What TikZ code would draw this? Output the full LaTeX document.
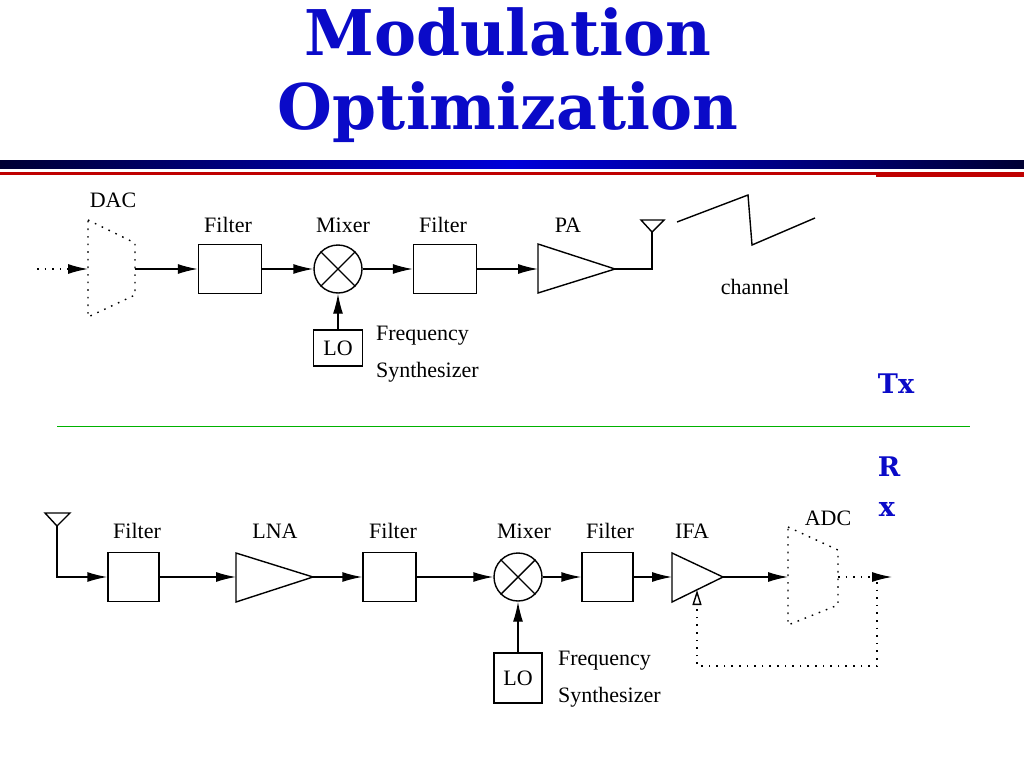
\documentclass[tikz,border=0pt]{standalone}
\usepackage{fontspec}
\setmainfont{Liberation Serif}
\newfontfamily\titlefont{DejaVu Serif}
\usetikzlibrary{arrows.meta}
\definecolor{tblue}{RGB}{10,10,200}
\begin{document}
\begin{tikzpicture}[x=1pt,y=-1pt,line width=1.4pt,
  box/.style={draw,minimum width=63pt,minimum height=49pt,inner sep=0},
  lbl/.style={font=\fontsize{22}{24}\selectfont},
  arr/.style={-{Latex[length=20pt,width=10pt]}},
  dots/.style={dash pattern=on 1.6pt off 6pt},
  bl/.style={text=tblue,font=\titlefont\bfseries\fontsize{27}{29}\selectfont}]
\useasboundingbox (0,0) rectangle (1024,768);
% title
\node[text=tblue,font=\titlefont\bfseries\fontsize{63}{66}\selectfont] (t1) at (508,32) {Modulation};
\node[text=tblue,font=\titlefont\bfseries\fontsize{63}{66}\selectfont] (t2) at (508,112) {Optimization};
\shade[left color=black!80!blue,right color=black!80!blue,middle color=blue!85!black] (0,160) rectangle (1024,168);
\fill[red!75!black] (0,172) rectangle (1024,175);
\fill[red!75!black] (876,172) rectangle (1024,177);
% ---------- Tx ----------
\coordinate (in) at (37,269);
\coordinate (dacL) at (88,269);
\coordinate (dacR) at (135,269);
\draw[dots] (88,220) -- (135,243) -- (135,295) -- (88,317) -- cycle;
\node[lbl] (dacl) at (113,200) {DAC};
\draw[dots,-{Latex[length=20pt,width=10pt]}] (in) -- (dacL);
\node[box] (f1) at (230,269) {};
\node[lbl] (f1l) at (228,225) {Filter};
\node[draw,circle,minimum size=48pt,inner sep=0] (m1) at (338,269) {};
\draw (m1.north west) -- (m1.south east) (m1.north east) -- (m1.south west);
\node[lbl] (m1l) at (343,225) {Mixer};
\node[box] (f2) at (445,269) {};
\node[lbl] (f2l) at (443,225) {Filter};
\coordinate (paL) at (538,269);
\coordinate (paT) at (615,269);
\draw (538,244) -- (615,269) -- (538,293) -- cycle;
\node[lbl] (pal) at (568,225) {PA};
\draw[arr] (dacR) -- (f1);
\draw[arr] (f1) -- (m1);
\draw[arr] (m1) -- (f2);
\draw[arr] (f2) -- (paL);
\coordinate (ant1) at (652,232);
\draw (paT) -- (652,269) -- (ant1);
\draw (641,220) -- (664,220) -- (ant1) -- cycle;
\draw (677,222) -- (748,195) -- (752,245) -- (815,218);
\node[lbl] (ch) at (755,287) {channel};
\node[draw,minimum width=49pt,minimum height=36pt,inner sep=0,lbl] (lo1) at (338,348) {LO};
\draw[arr] (lo1) -- (m1);
\node[lbl,anchor=west] (fs1) at (372,336) {Frequency};
\node[lbl,anchor=west] (fs2) at (372,372) {Synthesizer};
\node[bl] (tx) at (896,384) {Tx};
\draw[green!70!black,line width=1pt] (57,426) -- (970,426);
\node[bl] (r) at (889,467) {R};
\node[bl] (x) at (887,509) {x};
% ---------- Rx ----------
\coordinate (ant2) at (57,526);
\draw (45,513) -- (70,513) -- (ant2) -- cycle;
\node[draw,minimum width=51pt,minimum height=49pt,inner sep=0] (g1) at (133.5,577) {};
\node[lbl] (g1l) at (137,531) {Filter};
\draw[arr] (ant2) -- (57,577) -- (g1);
\coordinate (lnaL) at (236,577);
\coordinate (lnaT) at (313,577);
\draw (236,553) -- (313,577) -- (236,602) -- cycle;
\node[lbl] (lnal) at (275,531) {LNA};
\draw[arr] (g1) -- (lnaL);
\node[draw,minimum width=53pt,minimum height=49pt,inner sep=0] (g2) at (389.5,577) {};
\node[lbl] (g2l) at (393,531) {Filter};
\draw[arr] (lnaT) -- (g2);
\node[draw,circle,minimum size=48pt,inner sep=0] (m2) at (518,577) {};
\draw (m2.north west) -- (m2.south east) (m2.north east) -- (m2.south west);
\node[lbl] (m2l) at (524,531) {Mixer};
\draw[arr] (g2) -- (m2);
\node[draw,minimum width=51pt,minimum height=49pt,inner sep=0] (g3) at (607.5,577) {};
\node[lbl] (g3l) at (610,531) {Filter};
\draw[arr] (m2) -- (g3);
\coordinate (ifaL) at (672,577);
\coordinate (ifaT) at (723,577);
\draw (672,553) -- (723,577) -- (672,602) -- cycle;
\node[lbl] (ifal) at (692,531) {IFA};
\draw[arr] (g3) -- (ifaL);
\coordinate (adcL) at (788,577);
\coordinate (adcR) at (838,577);
\draw[dots] (788,527) -- (838,550) -- (838,605) -- (788,625) -- cycle;
\node[lbl] (adcl) at (828,518) {ADC};
\draw[arr] (ifaT) -- (adcL);
\coordinate (out) at (892,577);
\draw[dots,-{Latex[length=20pt,width=10pt]}] (adcR) -- (out);
\coordinate (fb) at (697,590);
\draw[dots,-{Triangle[open,length=15pt,width=9pt,line width=1.4pt]}] (877,582) -- (877,666) -- (697,666) -- (fb);
\node[draw,minimum width=48pt,minimum height=50pt,inner sep=0,lbl] (lo2) at (518,678) {LO};
\draw[arr] (lo2) -- (m2);
\node[lbl,anchor=west] (fs3) at (554,661) {Frequency};
\node[lbl,anchor=west] (fs4) at (554,697) {Synthesizer};
\end{tikzpicture}
\end{document}
